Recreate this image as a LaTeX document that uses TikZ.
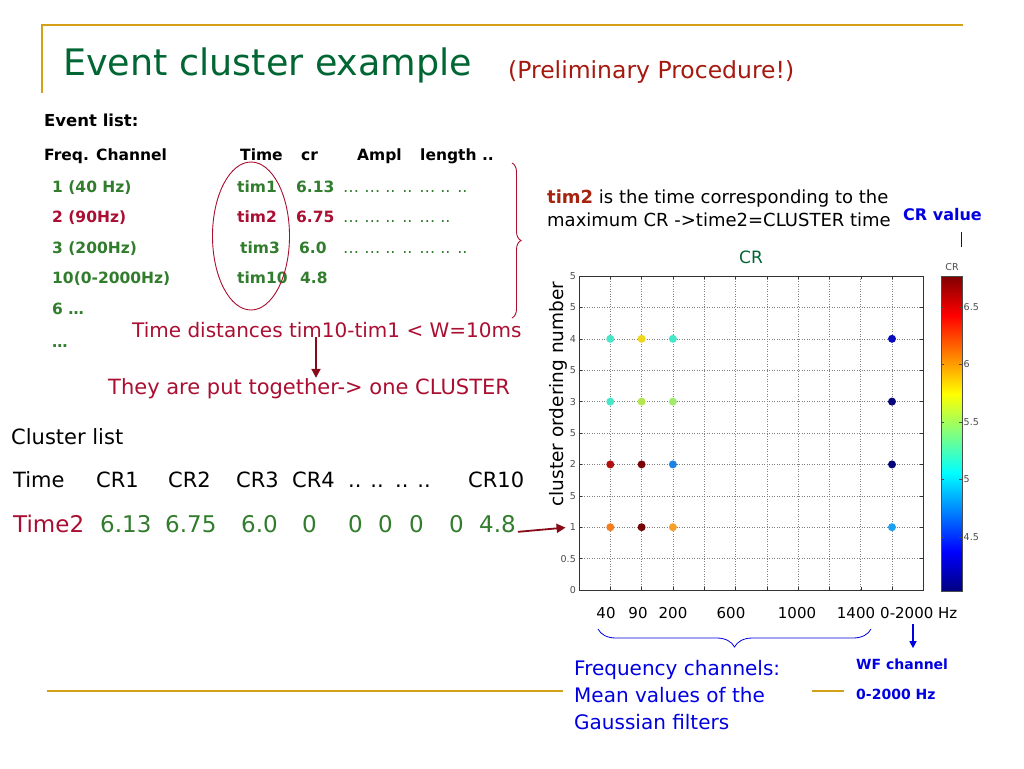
\documentclass[tikz,border=0pt]{standalone}
\usepackage{fontspec}
\setmainfont{DejaVu Sans}
\usepackage{xcolor}
\usetikzlibrary{arrows.meta,decorations.pathreplacing}

\definecolor{slidegold}{RGB}{212,160,23}
\definecolor{titlegreen}{RGB}{0,102,51}
\definecolor{prelimred}{RGB}{165,25,15}
\definecolor{clustred}{RGB}{170,15,50}
\definecolor{arrowred}{RGB}{135,10,25}
\definecolor{rowgreen}{RGB}{50,125,45}
\definecolor{slideblue}{RGB}{0,0,225}
\definecolor{timbrown}{RGB}{165,35,15}
% jet colours of the markers
\definecolor{jorange}{RGB}{245,125,30}
\definecolor{jmaroon}{RGB}{120,5,5}
\definecolor{jlorange}{RGB}{245,160,40}
\definecolor{jlblue}{RGB}{30,160,240}
\definecolor{jred}{RGB}{180,15,15}
\definecolor{jblue}{RGB}{30,130,225}
\definecolor{jnavy}{RGB}{5,5,120}
\definecolor{jturq}{RGB}{70,230,200}
\definecolor{jygreen}{RGB}{180,230,80}
\definecolor{jlgreen}{RGB}{160,235,110}
\definecolor{jyellow}{RGB}{240,215,30}
\definecolor{jdblue}{RGB}{10,10,190}

\pgfdeclareverticalshading{jetmap}{100bp}{rgb(0bp)=(0,0,0.5); rgb(25bp)=(0,0,0.5); rgb(31.25bp)=(0,0,1); rgb(43.75bp)=(0,1,1); rgb(56.25bp)=(1,1,0); rgb(68.75bp)=(1,0,0); rgb(75bp)=(0.5,0,0); rgb(100bp)=(0.5,0,0)}

\newcommand{\fsz}[1]{\fontsize{#1}{#1}\selectfont}

\tikzset{
  txt/.style={inner sep=0pt, anchor=base west},
  hdr/.style={txt, font=\bfseries\fsz{15.5}},
  evrow/.style={txt, font=\bfseries\fsz{15.5}, text=rowgreen},
  evred/.style={txt, font=\bfseries\fsz{15.5}, text=clustred},
  evdots/.style={txt, font=\fsz{16}, text=rowgreen},
  cl/.style={txt, font=\fsz{21}},
  clnum/.style={txt, font=\fsz{23}, text=rowgreen},
  goldline/.style={draw=slidegold, line width=2.5pt},
  griddot/.style={draw=black!50, dotted, line width=0.5pt},
  ticklbl/.style={inner sep=0pt, font=\fsz{9.5}, text=black!70},
  xlbl/.style={inner sep=0pt, anchor=base, font=\fsz{15}},
  crdot/.style={circle, inner sep=0pt, minimum size=8pt, fill=#1},
  bluetxt/.style={txt, font=\fsz{20}, text=slideblue},
  wftxt/.style={txt, font=\bfseries\fsz{14}, text=slideblue},
  redarr/.style={draw=arrowred, line width=1.8pt, -{Triangle[length=9pt,width=9pt]}},
  bluearr/.style={draw=slideblue, line width=1.2pt, -{Triangle[length=7pt,width=7pt]}},
}

\begin{document}
\begin{tikzpicture}[x=1pt,y=-1pt]
  \useasboundingbox[fill=white] (0,0) rectangle (1024,768);

  % slide frame
  \draw[goldline] (42,93) -- (42,25) -- (963,25);
  \draw[goldline] (47,691) -- (563,691);
  \draw[goldline] (812,691) -- (844,691);

  \node[txt, font=\fsz{36.5}, text=titlegreen] (title) at (63,75) {Event cluster example};
  \node[txt, font=\fsz{23.5}, text=prelimred] (prelim) at (508,78) {(Preliminary Procedure!)};

  % event list
  \node[txt, font=\bfseries\fsz{16.5}] (evlist) at (44,126) {Event list:};
  \node[hdr] (hfreq) at (44,160.5) {Freq. Channel};
  \node[hdr] (htime) at (240,160.5) {Time};
  \node[hdr] (hcr) at (301,160.5) {cr};
  \node[hdr] (hampl) at (357,160.5) {Ampl};
  \node[hdr] (hlen) at (420,160.5) {length ..};

  \node[evrow] (ch1) at (52,192) {1 (40 Hz)};
  \node[evrow] (tim1) at (237,192) {tim1};
  \node[evrow] (cr1) at (296,192) {6.13};
  \node[evdots] (dots1) at (343,192) {… … .. .. … .. ..};

  \node[evred] (ch2) at (52,222) {2 (90Hz)};
  \node[evred] (tim2) at (237,222) {tim2};
  \node[evred] (cr2) at (296,222) {6.75};
  \node[evdots] (dots2) at (343,222) {… … .. .. … ..};

  \node[evrow] (ch3) at (52,253) {3 (200Hz)};
  \node[evrow] (tim3) at (240,253) {tim3};
  \node[evrow] (cr3) at (299,253) {6.0};
  \node[evdots] (dots3) at (343,253) {… … .. .. … .. ..};

  \node[evrow] (ch10) at (52,283) {10(0-2000Hz)};
  \node[evrow] (tim10) at (237,283) {tim10};
  \node[evrow] (cr10) at (300,283) {4.8};

  \node[evrow] (ch6) at (52,314) {6 …};
  \node[evrow] (chmore) at (52,347) {…};

  \draw[clustred, line width=0.9pt] (251,236) ellipse [x radius=38.5pt, y radius=74pt];
  \draw[clustred, line width=0.9pt, decorate, decoration={brace, amplitude=9pt}] (512,163) -- (512,318);

  \node[txt, font=\fsz{20}, text=clustred] (dist) at (132,337) {Time distances tim10-tim1 < W=10ms};
  \node[txt, font=\fsz{21}, text=clustred] (together) at (108,394) {They are put together-> one CLUSTER};
  \coordinate (arrx) at (316,0);
  \draw[redarr] (dist.south -| arrx) -- (together.north -| arrx);

  % cluster list
  \node[cl] (cllist) at (11,444) {Cluster list};
  \node[cl] (ctime) at (13,487) {Time};
  \node[cl] (ccr1) at (96,487) {CR1};
  \node[cl] (ccr2) at (168,487) {CR2};
  \node[cl] (ccr3) at (236,487) {CR3};
  \node[cl] (ccr4) at (292,487) {CR4};
  \node[cl] (cdots1) at (348,487) {.. ..};
  \node[cl] (cdots2) at (395,487) {.. ..};
  \node[cl] (ccr10) at (468,487) {CR10};

  \node[txt, font=\fsz{23}, text=clustred] (time2) at (13,532) {Time2};
  \node[clnum] (cl613) at (100,532) {6.13};
  \node[clnum] (cl675) at (165,532) {6.75};
  \node[clnum] (cl60) at (241,532) {6.0};
  \foreach \zx [count=\i] in {302,348,378,409,449}
    \node[clnum] (zero\i) at (\zx,532) {0};
  \node[clnum] (cl48) at (479,532) {4.8};

  % right text
  \node[txt, font=\fsz{18}] (expl1) at (547,203) {\textbf{\color{timbrown}tim2} is the time corresponding to the};
  \node[txt, font=\fsz{18}] (expl2) at (547,226) {maximum CR ->time2=CLUSTER time};
  \node[txt, font=\bfseries\fsz{16}, text=slideblue] (crval) at (903,220.5) {CR value};
  \coordinate (cbx) at (961,0);
  \draw[slideblue, line width=1pt] (crval.south -| cbx) ++(0,11) -- ++(0,15);

  % plot
  \node[inner sep=0pt, anchor=base, font=\fsz{17}, text=titlegreen] (plttitle) at (751,263) {CR};
  \foreach \k in {1,...,10}
    \draw[griddot] ({579+31.3*\k},276) -- ({579+31.3*\k},590);
  \foreach \k in {1,...,9}
    \draw[griddot] (579,{590-31.4*\k}) -- (923,{590-31.4*\k});
  \foreach \k in {1,...,10} {
    \draw[black!80] ({579+31.3*\k},590) -- ++(0,-3);
    \draw[black!80] ({579+31.3*\k},276) -- ++(0,3);
  }
  \foreach \k in {1,...,9} {
    \draw[black!80] (579,{590-31.4*\k}) -- ++(3,0);
    \draw[black!80] (923,{590-31.4*\k}) -- ++(-3,0);
  }
  \draw[black!80, line width=0.7pt] (579,276) rectangle (923,590);

  \foreach \k/\lab in {0/0,1/0.5,2/1,3/5,4/2,5/5,6/3,7/5,8/4,9/5,10/5}
    \node[ticklbl, anchor=east] (yl\k) at (576,{590-31.4*\k}) {\lab};

  \foreach \cx/\cy/\col in {1/1/jorange, 2/1/jmaroon, 3/1/jlorange, 10/1/jlblue,
      1/2/jred, 2/2/jmaroon, 3/2/jblue, 10/2/jnavy,
      1/3/jturq, 2/3/jygreen, 3/3/jlgreen, 10/3/jnavy,
      1/4/jturq, 2/4/jyellow, 3/4/jturq, 10/4/jdblue}
    \node[crdot=\col] (dot\cx r\cy) at ({579+31.3*\cx},{590-62.8*\cy}) {};

  \node[inner sep=0pt, anchor=base, rotate=90, font=\fsz{18.5}] (ylabel) at (563,394) {cluster ordering number};

  % colour bar
  \shade[shading=jetmap] (941,276) rectangle (962,591);
  \draw[black!70, line width=0.5pt] (941,276) rectangle (962,591);
  \foreach \v [count=\i] in {6.5,6,5.5,5,4.5} {
    \draw[black!70] (941,{591-(\v-4.03)*114.96}) -- ++(3,0);
    \draw[black!70] (962,{591-(\v-4.03)*114.96}) -- ++(-3,0);
    \node[ticklbl, anchor=west] (cbl\i) at (963.5,{591-(\v-4.03)*114.96}) {\v};
  }
  \node[ticklbl, anchor=base] (cbtitle) at (952,270) {CR};

  % frequency axis
  \foreach \xc/\lab in {606/40, 638/90, 673/200, 731/600, 797/1000, 856/1400}
    \node[xlbl] (xl\lab) at (\xc,618) {\lab};
  \node[txt, font=\fsz{15}] (xlwf) at (880,618) {0-2000 Hz};
  \draw[slideblue, line width=0.8pt, decorate, decoration={brace, amplitude=18pt}] (871,629) -- (598,629);

  \node[bluetxt] (freq1) at (574,675) {Frequency channels:};
  \node[bluetxt] (freq2) at (574,702) {Mean values of the};
  \node[bluetxt] (freq3) at (574,729) {Gaussian filters};
  \node[wftxt] (wf) at (856,669) {WF channel};
  \node[wftxt] (wfhz) at (856,699) {0-2000 Hz};
  \coordinate (wfx) at (913,0);
  \draw[bluearr, shorten <=6pt, shorten >=10pt] (xlwf.south -| wfx) -- (wf.north -| wfx);

  \draw[redarr, shorten <=2pt, shorten >=4pt] (cl48.base east) -- (yl2.west);
\end{tikzpicture}
\end{document}
